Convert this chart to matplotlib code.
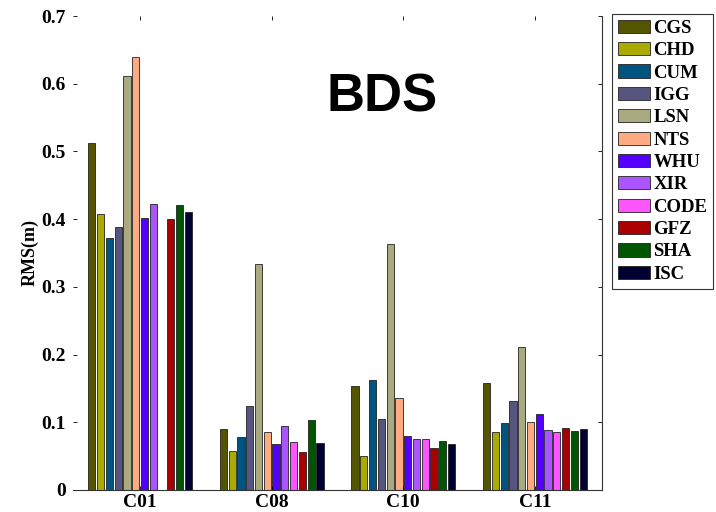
import matplotlib.pyplot as plt
import numpy as np

satellites = ['C01', 'C08', 'C10', 'C11']
centers = ['CGS', 'CHD', 'CUM', 'IGG', 'LSN', 'NTS', 'WHU', 'XIR', 'CODE', 'GFZ', 'SHA', 'ISC']
colors = ['#555500', '#AAAA00', '#005580', '#555580', '#AAAA80', '#FFAA80',
          '#5500FF', '#AA55FF', '#FF55FF', '#AA0000', '#005500', '#000033']

# RMS (m) per analysis centre, for C01, C08, C10, C11 (CODE has no C01)
cgs = [0.513, 0.090, 0.153, 0.158]
chd = [0.408, 0.058, 0.050, 0.086]
cum = [0.372, 0.078, 0.163, 0.099]
igg = [0.389, 0.124, 0.105, 0.132]
lsn = [0.612, 0.334, 0.363, 0.211]
nts = [0.640, 0.086, 0.136, 0.100]
whu = [0.402, 0.068, 0.080, 0.112]
xir = [0.422, 0.095, 0.075, 0.088]
code = [np.nan, 0.071, 0.076, 0.086]
gfz = [0.400, 0.056, 0.062, 0.091]
sha = [0.421, 0.103, 0.072, 0.087]
isc = [0.411, 0.070, 0.068, 0.090]
values = [cgs, chd, cum, igg, lsn, nts, whu, xir, code, gfz, sha, isc]

plt.rcParams['font.family'] = ['Liberation Serif', 'DejaVu Serif']
plt.rcParams['font.weight'] = 'bold'

fig = plt.figure(figsize=(7.16, 5.12), dpi=100)
ax = fig.add_axes([73 / 716, 22 / 512, 529 / 716, 474 / 512])

x = np.arange(1, len(satellites) + 1)
slot = 0.8 / len(centers)
for i, (name, vals) in enumerate(zip(centers, values)):
    offs = (i - (len(centers) - 1) / 2) * slot
    ax.bar(x + offs, vals, width=slot * 0.82, color=colors[i],
           edgecolor='#222222', linewidth=0.6, label=name)

ax.set_xlim(0.49, 4.51)
ax.set_ylim(0, 0.7)
ax.set_xticks(x)
ax.set_xticklabels(satellites, fontsize=14, fontweight='bold')
ax.set_yticks(np.arange(0, 0.71, 0.1))
ax.set_yticklabels(['0', '0.1', '0.2', '0.3', '0.4', '0.5', '0.6', '0.7'],
                   fontsize=14, fontweight='bold')
ax.tick_params(direction='in', top=True, right=True, length=3, width=0.6)
ax.tick_params(axis='y', pad=5)
ax.tick_params(axis='x', pad=3)
ax.spines['top'].set_visible(False)
ax.spines['left'].set_visible(False)
for s in ['right', 'bottom']:
    ax.spines[s].set_linewidth(0.8)
    ax.spines[s].set_color('#333333')
ax.set_ylabel('RMS(m)', fontsize=13, fontweight='bold', labelpad=2)

fig.text(382 / 716, 1 - 97 / 512, 'BDS', fontsize=38, fontweight='bold',
         family='Liberation Sans', ha='center', va='center')

leg = ax.legend(loc='upper left', bbox_to_anchor=(612 / 716, 1 - 14 / 512),
                bbox_transform=fig.transFigure, borderaxespad=0, frameon=True,
                fancybox=False, edgecolor='black', prop={'size': 13.5, 'weight': 'bold'},
                handlelength=1.7, handleheight=0.7, handletextpad=0.2,
                labelspacing=0.28, borderpad=0.3)
leg.get_frame().set_linewidth(0.8)

fig.savefig('out.png', dpi=100)
